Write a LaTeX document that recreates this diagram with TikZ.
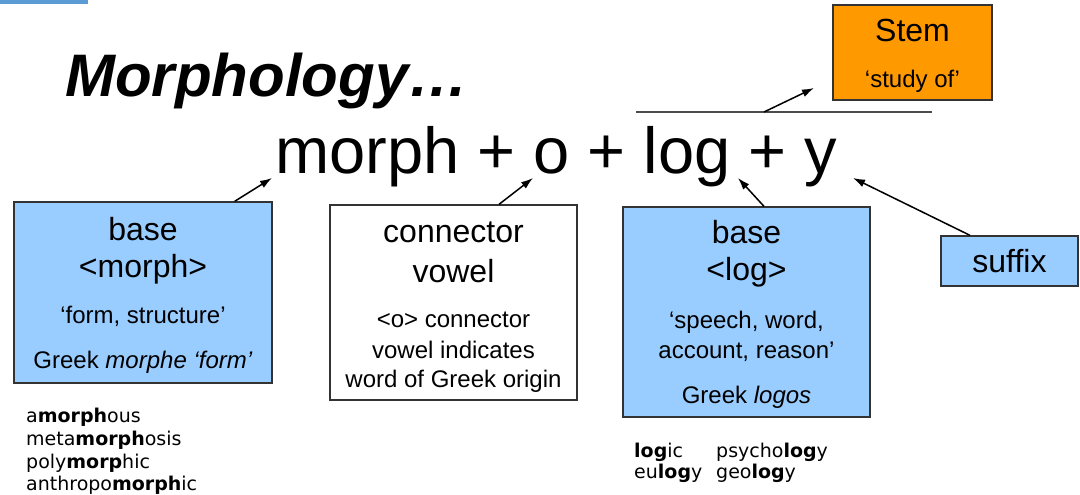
\documentclass[tikz,border=0pt]{standalone}
\usepackage{fontspec}
\setmainfont{Liberation Sans}
\newfontfamily\dv{DejaVu Sans}
\usetikzlibrary{arrows.meta}
\definecolor{boxblue}{HTML}{99CCFF}
\definecolor{stemorange}{HTML}{FF9900}
\definecolor{edgecol}{HTML}{333333}
\definecolor{topline}{HTML}{5B9BD5}
\begin{document}
\begin{tikzpicture}[x=1pt,y=-1pt,
  bx/.style={draw=edgecol, line width=1.3pt, inner sep=0pt},
  bluebox/.style={bx, fill=boxblue},
  whitebox/.style={bx, fill=white},
  stembox/.style={bx, fill=stemorange},
  bigtxt/.style={font=\fontsize{32}{38}\selectfont, anchor=base, inner sep=0pt},
  midtxt/.style={font=\fontsize{24}{28}\selectfont, anchor=base, inner sep=0pt},
  lst/.style={font=\dv\fontsize{19}{22}\selectfont, anchor=base west, inner sep=0pt},
  arr/.style={-{Latex[length=12pt,width=8pt]}, line width=1.5pt, draw=black}]
\useasboundingbox (0,0) rectangle (1080,495);
\fill[white] (0,0) rectangle (1080,495);
\fill[topline] (0,0) rectangle (88,4);

% title and formula
\node[anchor=base west, inner sep=0pt, font=\fontsize{60}{70}\selectfont\bfseries\itshape] (title) at (65,97) {Morphology…};
\node[anchor=base west, inner sep=0pt, font=\fontsize{65}{78}\selectfont] (eq) at (275,173) {morph + o + log + y};

% overline over "log + y"
\coordinate (olA) at (636,112);
\coordinate (olB) at (932,112);
\coordinate (olM) at (764,112);
\draw[gray!60!black, line width=1.5pt] (olA) -- (olB);

% stem box
\node[stembox, minimum width=159pt, minimum height=95pt] (stem) at (912.5,52.5) {};
\node[bigtxt] (stemA) at (912.5,42) {Stem};
\node[midtxt] (stemB) at (912.5,88) {‘study of’};
\coordinate (stemTip) at (814,88);
\draw[arr] (olM) -- (stemTip);

% box 1
\node[bluebox, minimum width=258pt, minimum height=181pt] (b1) at (143,292.5) {};
\node[bigtxt] (b1a) at (143,240) {base};
\node[bigtxt] (b1b) at (143,277) {<morph>};
\node[midtxt] (b1c) at (143,323) {‘form, structure’};
\node[midtxt] (b1d) at (143,368) {Greek \textit{morphe ‘form’}};

% box 2
\node[whitebox, minimum width=247pt, minimum height=195pt] (b2) at (453.5,302.5) {};
\node[bigtxt] (b2a) at (453.5,242) {connector};
\node[bigtxt] (b2b) at (453.5,282) {vowel};
\node[midtxt] (b2c) at (453.5,327) {<o> connector};
\node[midtxt] (b2d) at (453.5,358) {vowel indicates};
\node[midtxt] (b2e) at (453.5,387) {word of Greek origin};

% box 3
\node[bluebox, minimum width=247pt, minimum height=210pt] (b3) at (746.5,312) {};
\node[bigtxt] (b3a) at (746.5,243) {base};
\node[bigtxt] (b3b) at (746.5,280) {<log>};
\node[midtxt] (b3c) at (746.5,328) {‘speech, word,};
\node[midtxt] (b3d) at (746.5,358) {account, reason’};
\node[midtxt] (b3e) at (746.5,403) {Greek \textit{logos}};

% suffix
\node[bluebox, minimum width=137pt, minimum height=50pt] (suf) at (1009.5,261) {};
\node[bigtxt] (sufa) at (1009.5,272) {suffix};

% arrows to formula
\coordinate (t1) at (272,178);
\coordinate (t2) at (533,178);
\coordinate (t3) at (738,178);
\coordinate (t4) at (853,178);
\draw[arr] ([xshift=-38pt]b1.north east) -- (t1);
\draw[arr] ([xshift=45.5pt]b2.north) -- (t2);
\draw[arr] ([xshift=17.5pt]b3.north) -- (t3);
\draw[arr] ([xshift=-39.5pt]suf.north) -- (t4);

% word lists
\node[lst] (w1) at (26,422) {a\textbf{morph}ous};
\node[lst] (w2) at (26,445) {meta\textbf{morph}osis};
\node[lst] (w3) at (26,468) {poly\textbf{morp}hic};
\node[lst] (w4) at (26,490) {anthropo\textbf{morph}ic};
\node[lst] (w5) at (634,457) {\textbf{log}ic};
\node[lst] (w6) at (634,478) {eu\textbf{log}y};
\node[lst] (w7) at (716,457) {psycho\textbf{log}y};
\node[lst] (w8) at (716,478) {geo\textbf{log}y};
\end{tikzpicture}
\end{document}
